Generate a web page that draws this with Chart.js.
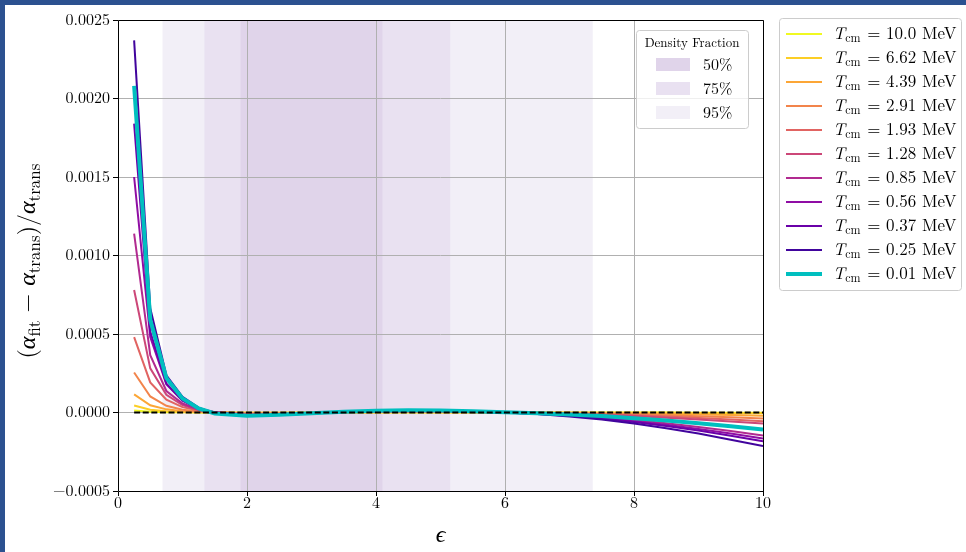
<!DOCTYPE html>
<html><head><meta charset="utf-8">
<script src="https://cdn.jsdelivr.net/npm/chart.js@4.4.1/dist/chart.umd.min.js"></script>
<style>
html,body{margin:0;padding:0;background:#fff;overflow:hidden;}
#wrap{width:961px;height:547px;border-top:5px solid #2c5190;border-left:5px solid #2c5190;background:#fff;}
canvas{display:block;}
</style></head><body>
<div id="wrap"><canvas id="c" width="961" height="547"></canvas></div>
<script>
// ---------- data ----------
const eps = [0.25,0.5,0.75,1,1.25,1.5,2,2.5,3,3.5,4,4.5,5,5.5,6,6.5,7,7.5,8,8.5,9,9.5,10];

const T10_0 = [13e-6,5e-6,2e-6,1e-6,0,0,-1e-6,-1e-6,0,0,0,0,0,0,0,0,0,0,0,0,-1e-6,-1e-6,-1e-6];
const T6_62 = [45e-6,18e-6,8e-6,3e-6,1e-6,0,-2e-6,-2e-6,-1e-6,0,1e-6,1e-6,1e-6,1e-6,0,0,-1e-6,-1e-6,-2e-6,-2e-6,-3e-6,-4e-6,-5e-6];
const T4_39 = [115e-6,46e-6,20e-6,8e-6,3e-6,1e-6,-4e-6,-3e-6,-1e-6,1e-6,2e-6,3e-6,2e-6,1e-6,0,-1e-6,-2e-6,-4e-6,-7e-6,-9e-6,-13e-6,-16e-6,-20e-6];
const T2_91 = [255e-6,102e-6,43e-6,18e-6,6e-6,1e-6,-7e-6,-6e-6,-2e-6,1e-6,4e-6,5e-6,4e-6,2e-6,0,-2e-6,-4e-6,-8e-6,-13e-6,-18e-6,-24e-6,-31e-6,-38e-6];
const T1_93 = [480e-6,192e-6,82e-6,34e-6,12e-6,2e-6,-10e-6,-8e-6,-3e-6,2e-6,5e-6,7e-6,6e-6,4e-6,0,-3e-6,-6e-6,-12e-6,-18e-6,-26e-6,-35e-6,-45e-6,-55e-6];
const T1_28 = [780e-6,281e-6,113e-6,47e-6,16e-6,2e-6,-13e-6,-10e-6,-4e-6,3e-6,7e-6,8e-6,8e-6,5e-6,0,-3e-6,-8e-6,-15e-6,-23e-6,-33e-6,-44e-6,-57e-6,-70e-6];
const T0_85 = [1140e-6,365e-6,137e-6,57e-6,19e-6,1e-6,-16e-6,-13e-6,-5e-6,3e-6,8e-6,10e-6,10e-6,6e-6,0,-7e-6,-17e-6,-31e-6,-48e-6,-69e-6,-92e-6,-118e-6,-146e-6];
const T0_56 = [1500e-6,480e-6,180e-6,75e-6,26e-6,1e-6,-18e-6,-14e-6,-5e-6,4e-6,9e-6,12e-6,11e-6,6e-6,0,-8e-6,-19e-6,-35e-6,-55e-6,-78e-6,-105e-6,-134e-6,-166e-6];
const T0_37 = [1840e-6,515e-6,184e-6,77e-6,24e-6,-5e-6,-19e-6,-15e-6,-6e-6,4e-6,10e-6,12e-6,11e-6,7e-6,0,-9e-6,-21e-6,-38e-6,-60e-6,-86e-6,-115e-6,-148e-6,-183e-6];
const T0_25 = [2370e-6,664e-6,237e-6,100e-6,31e-6,-5e-6,-20e-6,-16e-6,-6e-6,4e-6,10e-6,13e-6,12e-6,7e-6,0,-10e-6,-25e-6,-45e-6,-70e-6,-100e-6,-134e-6,-173e-6,-213e-6];
const T0_01 = [2080e-6,590e-6,220e-6,90e-6,26e-6,-6e-6,-20e-6,-15e-6,-5e-6,5e-6,11e-6,14e-6,13e-6,8e-6,1e-6,-5e-6,-13e-6,-23e-6,-36e-6,-51e-6,-68e-6,-87e-6,-108e-6];

const zeroLine = eps.map(() => 0);

const tempLabels = ['10.0','6.62','4.39','2.91','1.93','1.28','0.85','0.56','0.37','0.25','0.01'];
const seriesList = [T10_0,T6_62,T4_39,T2_91,T1_93,T1_28,T0_85,T0_56,T0_37,T0_25,T0_01];
const lineColors = ['#f0f921','#fcce25','#fca636','#f2844b','#e16462','#cc4778','#b12a90','#8f0da4','#6a00a8','#41049d','#00bfbf'];

const xTicks = [0,2,4,6,8,10];
const xTickLabels = ['0','2','4','6','8','10'];
const yTicks = [-0.0005,0,0.0005,0.001,0.0015,0.002,0.0025];
const yTickLabels = ['\u22120.0005','0.0000','0.0005','0.0010','0.0015','0.0020','0.0025'];

const bandLabels = ['95%','75%','50%'];
const bandLo = [0.69,1.34,1.90];
const bandHi = [7.36,5.15,4.10];
const bandColors = ['#f2eff7','#e9e1f1','#e0d4ea'];

// ---------- drawing ----------
const SERIF = "'Latin Modern Roman','CMU Serif','Liberation Serif','DejaVu Serif',serif";
Chart.defaults.font.family = SERIF;
Chart.defaults.font.size = 16;
Chart.defaults.color = '#000';

const NLAST = tempLabels.length - 1;
const datasets = [];
datasets.push({label:'zero', data: eps.map((e,j)=>({x:e,y:zeroLine[j]})), borderColor:'#000', borderWidth:2, borderDash:[6,2.6], pointRadius:0, fill:false});
for (let i = NLAST; i >= 0; i--) {
  datasets.push({
    label: 'T_cm = ' + tempLabels[i] + ' MeV',
    data: eps.map((e,j)=>({x:e, y:seriesList[i][j]})),
    borderColor: lineColors[i],
    borderWidth: i === NLAST ? 4 : 2,
    pointRadius: 0, tension: 0, fill:false
  });
}

function align(p){ return Math.round(p - 0.5) + 0.5; }

function roundRect(ctx,x,y,w,h,r){
  ctx.beginPath();
  ctx.moveTo(x+r,y); ctx.lineTo(x+w-r,y); ctx.quadraticCurveTo(x+w,y,x+w,y+r);
  ctx.lineTo(x+w,y+h-r); ctx.quadraticCurveTo(x+w,y+h,x+w-r,y+h);
  ctx.lineTo(x+r,y+h); ctx.quadraticCurveTo(x,y+h,x,y+h-r);
  ctx.lineTo(x,y+r); ctx.quadraticCurveTo(x,y,x+r,y); ctx.closePath();
}

const bandsPlugin = {
  id:'bands',
  beforeDraw(chart){
    const {ctx, chartArea:a, scales:{x}} = chart;
    ctx.save();
    for (let i=0;i<bandLo.length;i++){
      const x0 = x.getPixelForValue(bandLo[i]), x1 = x.getPixelForValue(bandHi[i]);
      ctx.fillStyle = bandColors[i];
      ctx.fillRect(x0, a.top, x1-x0, a.bottom-a.top);
    }
    ctx.restore();
  }
};

function drawTLabel(ctx, x, y, t){
  ctx.textAlign='left'; ctx.textBaseline='alphabetic'; ctx.fillStyle='#000';
  ctx.font = 'italic 17px ' + SERIF; ctx.fillText('T', x, y); x += ctx.measureText('T').width;
  ctx.font = '12px ' + SERIF; ctx.fillText('cm', x, y+3); x += ctx.measureText('cm').width + 1;
  ctx.font = '17px ' + SERIF; ctx.fillText(' = ' + t + ' MeV', x, y);
}

function pieces(ctx, parts, draw, x, y){
  let w = 0;
  for (const p of parts){
    ctx.font = p.f;
    if (draw) ctx.fillText(p.t, x + w, y + (p.dy||0));
    w += ctx.measureText(p.t).width;
  }
  return w;
}

const overlayPlugin = {
  id:'overlay',
  afterDraw(chart){
    const {ctx, chartArea:a} = chart;
    ctx.save();
    // frame
    ctx.strokeStyle='#000'; ctx.lineWidth=1;
    const L=align(a.left), R=align(a.right), T=align(a.top), B=align(a.bottom);
    ctx.beginPath(); ctx.rect(L, T, R-L, B-T); ctx.stroke();

    // density legend
    ctx.fillStyle='rgba(255,255,255,0.8)'; ctx.strokeStyle='#cccccc';
    roundRect(ctx, 631.5, 25.5, 112, 98, 3); ctx.fill(); ctx.stroke();
    ctx.fillStyle='#000'; ctx.textAlign='center'; ctx.textBaseline='alphabetic';
    ctx.font='13px ' + SERIF;
    ctx.fillText('Density Fraction', 687, 42);
    const order = [2,1,0];
    order.forEach((bi, k) => {
      const cy = 59 + k*24;
      ctx.fillStyle = bandColors[bi];
      ctx.fillRect(651, cy-6, 34, 13);
      ctx.fillStyle='#000'; ctx.textAlign='left';
      ctx.font='16px ' + SERIF;
      ctx.fillText(bandLabels[bi], 698, cy+6);
    });

    // main legend
    ctx.fillStyle='rgba(255,255,255,0.8)'; ctx.strokeStyle='#cccccc'; ctx.lineWidth=1;
    roundRect(ctx, 774.5, 13.5, 182, 272, 3); ctx.fill(); ctx.stroke();
    for (let i=0;i<tempLabels.length;i++){
      const cy = 29 + i*24;
      ctx.strokeStyle = lineColors[i];
      ctx.lineWidth = i === NLAST ? 4 : 2;
      ctx.beginPath(); ctx.moveTo(781, cy); ctx.lineTo(817, cy); ctx.stroke();
      drawTLabel(ctx, 828, cy+5, tempLabels[i]);
    }

    // y title
    ctx.save();
    ctx.translate(23, 256); ctx.rotate(-Math.PI/2);
    ctx.fillStyle='#000'; ctx.textAlign='left'; ctx.textBaseline='alphabetic';
    const R20 = '24px ' + SERIF, I20 = 'italic 24px ' + SERIF, S14 = '17px ' + SERIF;
    const parts = [
      {t:'(', f:R20},{t:'\u03b1', f:I20},{t:'fit', f:S14, dy:5},{t:' \u2212 ', f:R20},
      {t:'\u03b1', f:I20},{t:'trans', f:S14, dy:5},{t:')/', f:R20},{t:'\u03b1', f:I20},{t:'trans', f:S14, dy:5}
    ];
    const w = pieces(ctx, parts, false, 0, 0);
    pieces(ctx, parts, true, -w/2, 7);
    ctx.restore();

    // x title
    ctx.fillStyle='#000'; ctx.textAlign='center'; ctx.font='italic 24px ' + SERIF;
    ctx.fillText('\u03f5', (a.left+a.right)/2, 537);
    ctx.restore();
  }
};

new Chart(document.getElementById('c'), {
  type:'line',
  data:{ datasets },
  options:{
    responsive:false, animation:false, devicePixelRatio:1,
    layout:{ padding:{ left:0, top:15, right:203, bottom:0 } },
    plugins:{ legend:{display:false}, tooltip:{enabled:false} },
    scales:{
      x:{
        type:'linear', min:0, max:10,
        afterBuildTicks(s){ s.ticks = xTicks.map(v=>({value:v})); },
        afterFit(s){ s.height = 61; },
        ticks:{ autoSkip:false, maxRotation:0, padding:-2, font:{size:16}, color:'#000',
          callback:(v,i)=>xTickLabels[i] },
        grid:{ color:'#b0b0b0', lineWidth:1, tickColor:'#000', tickLength:5 },
        border:{ display:false }
      },
      y:{
        type:'linear', min:-0.0005, max:0.0025,
        afterBuildTicks(s){ s.ticks = yTicks.map(v=>({value:v})); },
        afterFit(s){ s.width = 113; },
        ticks:{ autoSkip:false, padding:3, font:{size:16}, color:'#000',
          callback:(v,i)=>yTickLabels[i] },
        grid:{ color:'#b0b0b0', lineWidth:1, tickColor:'#000', tickLength:5 },
        border:{ display:false }
      }
    }
  },
  plugins:[bandsPlugin, overlayPlugin]
});
</script>
</body></html>
